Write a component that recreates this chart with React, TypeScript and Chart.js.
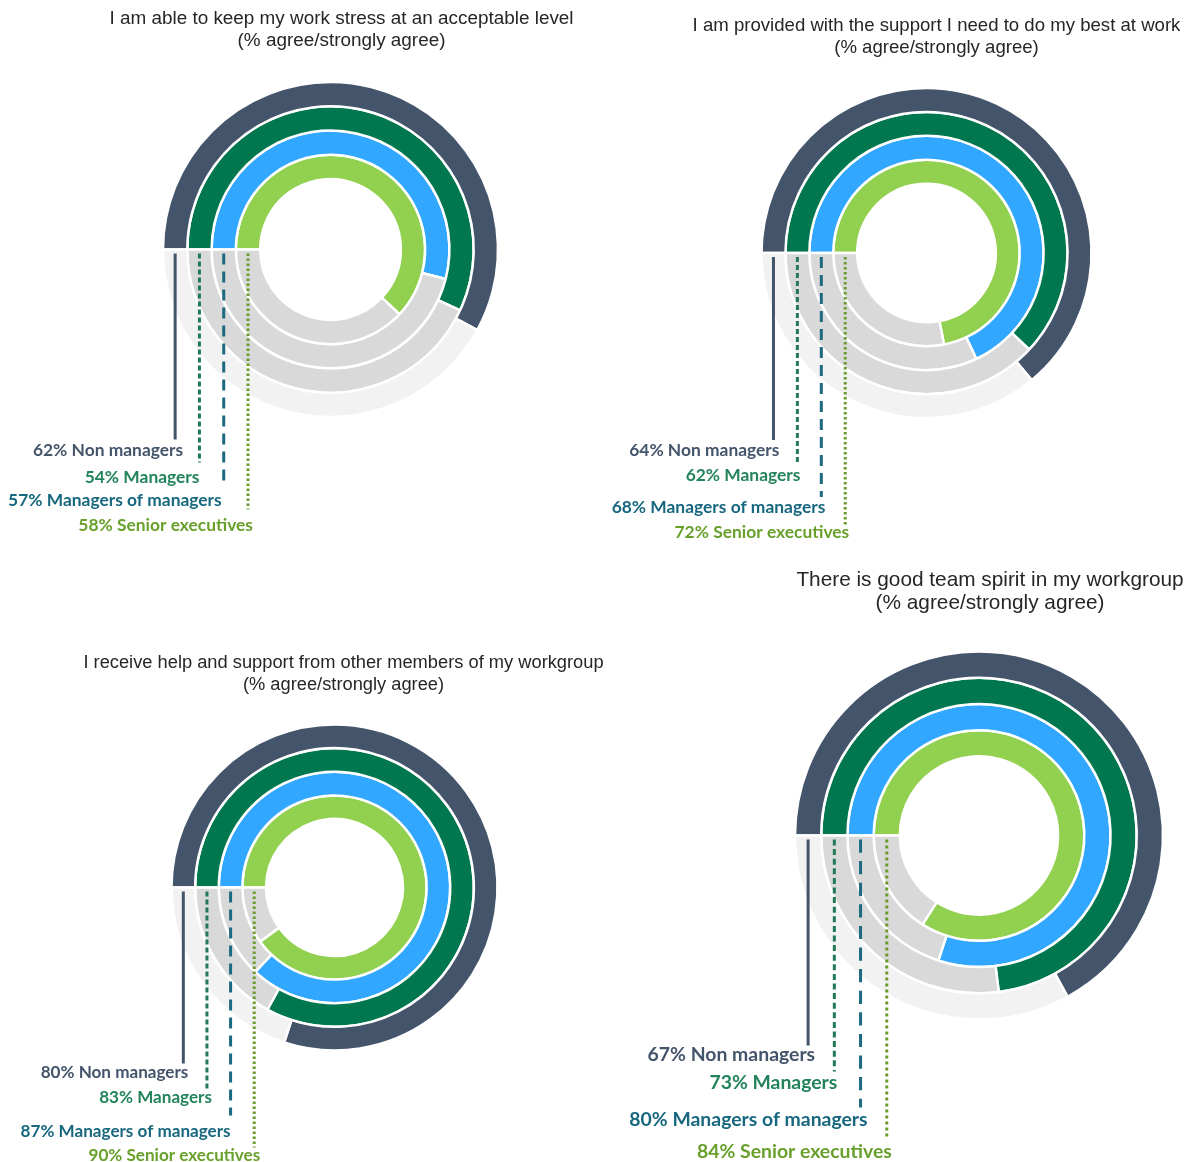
import React, { useEffect, useRef } from "react";
import { Chart, registerables } from "chart.js";

Chart.register(...registerables);

// ---------- data ----------
const groups = ["Non managers", "Managers", "Managers of managers", "Senior executives"];

const stressTitle = ["I am able to keep my work stress at an acceptable level", "(% agree/strongly agree)"];
const stressLabelValues = [62, 54, 57, 58];
// arc lengths as drawn in the source picture (ring order: outer -> inner)
const stressArcValues = [58, 57, 54, 62];

const supportTitle = ["I am provided with the support I need to do my best at work", "(% agree/strongly agree)"];
const supportValues = [64, 62, 68, 72];

const helpTitle = ["I receive help and support from other members of my workgroup", "(% agree/strongly agree)"];
const helpValues = [80, 83, 87, 90];

const spiritTitle = ["There is good team spirit in my workgroup", "(% agree/strongly agree)"];
const spiritValues = [67, 73, 80, 84];

// ---------- styles ----------
const ringColors = ["#44546a", "#00774f", "#31a7ff", "#92d050"];
const remainderColors = ["#f2f2f2", "#d9d9d9", "#d9d9d9", "#d9d9d9"];
const labelColors = ["#44546a", "#23845c", "#17677f", "#68a02b"];
const leaderColors = ["#44546a", "#1f7a55", "#1b6a80", "#6a9b2b"];
const leaderDashes = [[], [5, 3], [11, 7], [2.5, 2.5]];

const W = 1192;
const H = 1162;

type Panel = {
  title: string[];
  arcs: number[];
  labels: number[];
  cx: number;
  cy: number;
  r: number;
  cutout: string;
  titleX: number;
  titleY: number[];
  titleSize: number;
  labelSize: number;
  lineEnd: number[];
  labelY: number[];
  labelDx: number[];
  dashScale: number;
};

const panels: Panel[] = [
  {
    title: stressTitle, arcs: stressArcValues, labels: stressLabelValues,
    cx: 330.5, cy: 249.5, r: 167.5, cutout: "42%",
    titleX: 341.5, titleY: [19, 41], titleSize: 18.9, labelSize: 17.4,
    lineEnd: [190, 213, 233, 260], labelY: [200.5, 227.5, 250.5, 275.5], labelDx: [8, 0, -2, 5], dashScale: 1,
  },
  {
    title: supportTitle, arcs: supportValues, labels: supportValues,
    cx: 926.5, cy: 253, r: 165, cutout: "42%",
    titleX: 936.5, titleY: [26, 48], titleSize: 18.6, labelSize: 17.4,
    lineEnd: [187, 210, 244, 272], labelY: [197, 222, 254, 279], labelDx: [6, 3, 4, 4], dashScale: 1,
  },
  {
    title: helpTitle, arcs: helpValues, labels: helpValues,
    cx: 334.5, cy: 887.5, r: 163, cutout: "42%",
    titleX: 343.5, titleY: [663, 685], titleSize: 18.3, labelSize: 17.1,
    lineEnd: [176, 202, 228, 260], labelY: [184.5, 209.5, 243.5, 267.5], labelDx: [5, 5, 0, 6], dashScale: 1,
  },
  {
    title: spiritTitle, arcs: spiritValues, labels: spiritValues,
    cx: 979, cy: 835.5, r: 184, cutout: "43%",
    titleX: 990, titleY: [580, 603], titleSize: 20.8, labelSize: 19.4,
    lineEnd: [210, 236, 272, 304], labelY: [219.5, 247.5, 284.5, 316.5], labelDx: [7, 3, 7, 5], dashScale: 1.2,
  },
];

function makeOverlay(p: Panel) {
  return {
    id: "overlay",
    afterDraw(chart: any) {
      const ctx: CanvasRenderingContext2D = chart.ctx;
      ctx.save();
      // title
      ctx.fillStyle = "#262626";
      ctx.textAlign = "center";
      ctx.textBaseline = "middle";
      ctx.font = `${p.titleSize}px "Liberation Sans", Arial, sans-serif`;
      p.title.forEach((t, i) => ctx.fillText(t, p.titleX, p.titleY[i]));

      // leader lines and labels
      for (let i = 0; i < 4; i++) {
        const arc: any = chart.getDatasetMeta(i).data[0];
        const mid = (arc.innerRadius + arc.outerRadius) / 2;
        const x = arc.x - mid;
        const y0 = arc.y + 4;
        const y1 = arc.y + p.lineEnd[i];
        ctx.beginPath();
        ctx.strokeStyle = leaderColors[i];
        ctx.lineWidth = 3;
        ctx.setLineDash(leaderDashes[i].map((d) => d * p.dashScale));
        ctx.moveTo(x, y0);
        ctx.lineTo(x, y1);
        ctx.stroke();
        ctx.setLineDash([]);

        ctx.fillStyle = labelColors[i];
        ctx.textAlign = "right";
        ctx.textBaseline = "middle";
        ctx.font = `bold ${p.labelSize}px Lato, "Open Sans", sans-serif`;
        ctx.fillText(`${p.labels[i]}% ${groups[i]}`, x + p.labelDx[i], arc.y + p.labelY[i]);
      }
      ctx.restore();
    },
  };
}

function RingChart({ panel }: { panel: Panel }) {
  const ref = useRef<HTMLCanvasElement | null>(null);
  useEffect(() => {
    if (!ref.current) return;
    const p = panel;
    const chart = new Chart(ref.current, {
      type: "doughnut",
      data: {
        labels: ["Agree / strongly agree", "Other"],
        datasets: p.arcs.map((v, i) => ({
          label: groups[i],
          data: [v, 100 - v],
          backgroundColor: [ringColors[i], remainderColors[i]],
          borderColor: "#ffffff",
          borderWidth: 2.5,
          hoverOffset: 0,
        })),
      },
      options: {
        responsive: false,
        animation: false,
        events: [],
        rotation: -90,
        circumference: 360,
        radius: p.r,
        cutout: p.cutout,
        layout: {
          padding: {
            left: p.cx - p.r,
            right: W - p.cx - p.r,
            top: p.cy - p.r,
            bottom: H - p.cy - p.r,
          },
        },
        plugins: {
          legend: { display: false },
          tooltip: { enabled: false },
          title: { display: false },
        },
      } as any,
      plugins: [makeOverlay(p)],
    });
    return () => chart.destroy();
  }, [panel]);
  return (
    <canvas
      ref={ref}
      width={W}
      height={H}
      style={{ position: "absolute", left: 0, top: 0, width: W, height: H, display: "block" }}
    />
  );
}

export default function App() {
  useEffect(() => {
    document.body.style.margin = "0";
    document.body.style.background = "#ffffff";
  }, []);
  return (
    <div style={{ position: "relative", width: W, height: H, background: "#ffffff" }}>
      {panels.map((p, i) => (
        <RingChart key={i} panel={p} />
      ))}
    </div>
  );
}
